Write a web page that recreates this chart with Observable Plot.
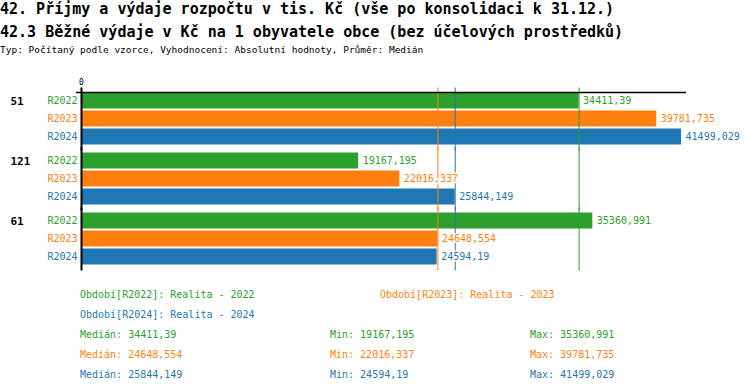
<!DOCTYPE html>
<html><head><meta charset="utf-8">
<script src="https://cdn.jsdelivr.net/npm/d3@7"></script>
<script src="https://cdn.jsdelivr.net/npm/@observablehq/plot@0.6"></script>
<style>
html,body{margin:0;padding:0;background:#fff;}
#wrap{position:relative;width:750px;height:392px;overflow:hidden;font-family:"DejaVu Sans Mono",monospace;}
.t{position:absolute;white-space:pre;line-height:1;}
#chart{position:absolute;left:0;top:60px;}
</style></head><body><div id="wrap"><div id="chart"></div></div>
<script>
const titleText = "42. Příjmy a výdaje rozpočtu v tis. Kč (vše po konsolidaci k 31.12.)";
const subtitleText = "42.3 Běžné výdaje v Kč na 1 obyvatele obce (bez účelových prostředků)";
const noteText = "Typ: Počítaný podle vzorce, Vyhodnocení: Absolutní hodnoty, Průměr: Medián";
const groups = ["51", "121", "61"];
const series = ["R2022", "R2023", "R2024"];
const seriesNames = ["Realita - 2022", "Realita - 2023", "Realita - 2024"];
const seriesColors = ["#2ca02c", "#ff7f0e", "#1f77b4"];
const values2022 = [34411.39, 19167.195, 35360.991];
const values2023 = [39781.735, 22016.337, 24648.554];
const values2024 = [41499.029, 25844.149, 24594.19];
const xTicks = [0];

const allValues = [values2022, values2023, values2024];
const fmt = v => String(v).replace(".", ",");
const rows = groups.flatMap((g, i) => series.map((s, j) => ({group: g, series: s, value: allValues[j][i]})));
const stats = series.map((s, j) => ({
  series: s, name: seriesNames[j], color: seriesColors[j],
  median: d3.median(allValues[j]), min: d3.min(allValues[j]), max: d3.max(allValues[j])
}));
const xMax = d3.max(rows, d => d.value) * 1.0082;

const wrap = document.getElementById("wrap");
function addText(txt, left, baseline, size, opts = {}) {
  const el = document.createElement("div");
  el.className = "t";
  el.textContent = txt;
  el.style.left = left + "px";
  el.style.top = (baseline - 0.846 * size) + "px";
  el.style.fontSize = size + "px";
  if (opts.bold) el.style.fontWeight = "bold";
  el.style.color = opts.color || "#000";
  wrap.appendChild(el);
}
addText(titleText, 0, 14.5, 15, {bold: true});
addText(subtitleText, 0, 37.5, 15, {bold: true});
addText(noteText, 0, 53.5, 9.5);

const firstFacet = [{group: groups[0], series: series[0], tick: xTicks[0]}];

const chart = Plot.plot({
  width: 750, height: 220,
  marginTop: 27, marginBottom: 10, marginLeft: 81, marginRight: 64,
  style: {fontFamily: "DejaVu Sans Mono", fontSize: "10px", background: "transparent", overflow: "visible"},
  x: {domain: [0, xMax], axis: null},
  y: {domain: series, paddingInner: 2 / 18, paddingOuter: 0, axis: null, round: false},
  fy: {domain: groups, paddingInner: 8 / 60, paddingOuter: 0.0917, axis: null, round: false},
  color: {domain: series, range: seriesColors},
  marks: [
    Plot.barX(rows, {fy: "group", y: "series", x: "value", fill: "series"}),
    Plot.ruleX(stats, {x: "median", stroke: "series", strokeWidth: 1, insetTop: -5, insetBottom: -6}),
    Plot.ruleX(xTicks, {x: d => d, stroke: "black", strokeWidth: 2, insetTop: -5, insetBottom: -6}),
    Plot.ruleY(firstFacet, {fy: "group", y: "series", dy: -8.5, insetLeft: -5, stroke: "black", strokeWidth: 1.5}),
    Plot.text(firstFacet, {fy: "group", x: "tick", text: d => String(d.tick), frameAnchor: "top", lineAnchor: "bottom", dy: -8.5, fontSize: 8}),
    Plot.text(groups, {fy: d => d, y: () => series[0], text: d => d, frameAnchor: "left", dx: -71, textAnchor: "start", fontWeight: "bold", fontSize: 11}),
    Plot.text(rows, {fy: "group", y: "series", text: "series", fill: "series", frameAnchor: "left", dx: -4, textAnchor: "end"}),
    Plot.text(rows, {fy: "group", y: "series", x: "value", text: d => fmt(d.value), fill: "series", dx: 4, textAnchor: "start", stroke: "white", strokeWidth: 3})
  ]
});
document.getElementById("chart").appendChild(chart);

// legend
addText(`Období[${series[0]}]: ${seriesNames[0]}`, 80, 298, 10, {color: seriesColors[0]});
addText(`Období[${series[1]}]: ${seriesNames[1]}`, 380, 298, 10, {color: seriesColors[1]});
addText(`Období[${series[2]}]: ${seriesNames[2]}`, 80, 318, 10, {color: seriesColors[2]});
stats.forEach((s, j) => {
  const b = 338 + 20 * j;
  addText(`Medián: ${fmt(s.median)}`, 80, b, 10, {color: s.color});
  addText(`Min: ${fmt(s.min)}`, 330, b, 10, {color: s.color});
  addText(`Max: ${fmt(s.max)}`, 530, b, 10, {color: s.color});
});
</script>
</body></html>
